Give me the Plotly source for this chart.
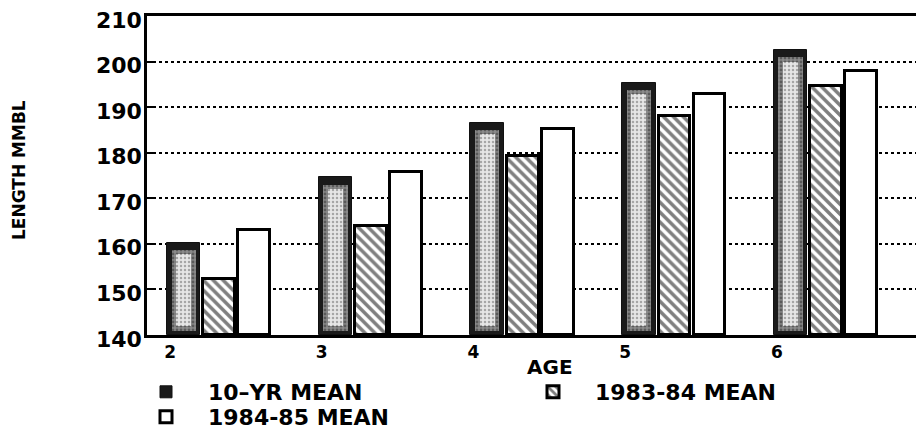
import plotly.graph_objects as go

ages = [2, 3, 4, 5, 6]
ten_yr_mean = [160.2, 174.6, 186.6, 195.3, 202.5]
mean_1983_84 = [152.2, 164.0, 179.3, 188.0, 194.7]
mean_1984_85 = [163.0, 175.8, 185.1, 192.8, 197.9]
y_ticks = [140, 150, 160, 170, 180, 190, 200, 210]

FONT = "DejaVu Sans"
BASE = 140
OFF = 8  # default page body margin
W, H = 924 - OFF, 431 - OFF
ML, MR, MT, MB = 147 - OFF, 0, 16 - OFF, (431 - OFF) - (335 - OFF)
PW, PH = W - ML - MR, H - MT - MB


def px_x(px):
    return (px - OFF - ML) / PW


def px_y(py):
    return (H - MB - (py - OFF)) / PH


fig = go.Figure()

fig.add_trace(go.Bar(
    x=ages, y=[v - BASE for v in ten_yr_mean], base=BASE,
    name="10\u2013YR MEAN", offset=-0.02, width=0.22, legend="legend",
    marker=dict(color="#1a1a1a", line=dict(color="#111", width=1)),
))
# spray-like lighter core of the 10-yr bars (decoration, no legend)
fig.add_trace(go.Bar(
    x=ages, y=[v - BASE - 2.4 for v in ten_yr_mean], base=BASE + 0.8,
    offset=0.01, width=0.16, showlegend=False, hoverinfo="skip",
    marker=dict(color="#6e6e6e", line=dict(width=0),
                pattern=dict(shape=".", fgcolor="#2a2a2a", bgcolor="#8a8a8a",
                             size=4, solidity=0.4)),
))
fig.add_trace(go.Bar(
    x=ages, y=[v - BASE - 4.5 for v in ten_yr_mean], base=BASE + 2.0,
    offset=0.04, width=0.10, showlegend=False, hoverinfo="skip",
    marker=dict(color="#e2e2e2", line=dict(width=0),
                pattern=dict(shape=".", fgcolor="#666", bgcolor="#e6e6e6",
                             size=4, solidity=0.3)),
))
fig.add_trace(go.Bar(
    x=ages, y=[v - BASE for v in mean_1983_84], base=BASE,
    name="1983-84 MEAN", offset=0.22, width=0.21, legend="legend",
    marker=dict(color="white", line=dict(color="black", width=3),
                pattern=dict(shape="\\", fgcolor="black", bgcolor="white",
                             size=7, solidity=0.5)),
))
fig.add_trace(go.Bar(
    x=ages, y=[v - BASE for v in mean_1984_85], base=BASE,
    name="1984-85 MEAN", offset=0.45, width=0.21, legend="legend2",
    marker=dict(color="white", line=dict(color="black", width=3)),
))

# y tick labels, drawn slightly below their ticks as on the original plotter output
for t in y_ticks:
    fig.add_annotation(text=str(t), x=0, xref="paper", y=t, yref="y",
                       xanchor="right", yanchor="middle", xshift=-3, yshift=-4,
                       showarrow=False,
                       font=dict(family=FONT, size=22, color="black", weight="bold"))

fig.add_annotation(text="AGE", x=px_x(550), y=px_y(367), xref="paper", yref="paper",
                   xanchor="center", yanchor="middle", showarrow=False,
                   font=dict(family=FONT, size=20, color="black", weight="bold"))
fig.add_annotation(text="LENGTH MMBL", x=px_x(19), y=px_y(170), xref="paper", yref="paper",
                   xanchor="center", yanchor="middle", showarrow=False, textangle=-90,
                   font=dict(family=FONT, size=17, color="black", weight="bold"))

legend_font = dict(family=FONT, size=22, color="black", weight="bold")
fig.update_layout(
    width=W, height=H,
    margin=dict(l=ML, r=MR, t=MT, b=MB, autoexpand=False),
    paper_bgcolor="white", plot_bgcolor="white",
    barmode="overlay",
    font=dict(family=FONT, color="black", size=18, weight="bold"),
    showlegend=True,
    legend=dict(orientation="h", x=px_x(124), y=px_y(371), xanchor="left", yanchor="top",
                entrywidth=298, tracegroupgap=0, itemwidth=74,
                font=legend_font, bgcolor="rgba(0,0,0,0)"),
    legend2=dict(orientation="h", x=px_x(124), y=px_y(396), xanchor="left", yanchor="top",
                 entrywidth=298, tracegroupgap=0, itemwidth=74,
                 font=legend_font, bgcolor="rgba(0,0,0,0)"),
    bargap=0,
)
fig.update_xaxes(
    range=[1.848, 6.969], tickvals=ages, ticktext=[str(a) for a in ages],
    showgrid=False, showline=True, linecolor="black", linewidth=3, mirror=True,
    ticks="", zeroline=False, tickfont=dict(family=FONT, size=17, weight="bold"),
)
fig.update_yaxes(
    range=[140, 210], tickvals=y_ticks, showticklabels=False,
    showgrid=True, gridcolor="black", gridwidth=2, griddash="dot",
    showline=True, linecolor="black", linewidth=3, mirror=False,
    ticks="inside", ticklen=6, tickwidth=2, tickcolor="black",
    zeroline=False,
)

fig.write_html("out.html")
